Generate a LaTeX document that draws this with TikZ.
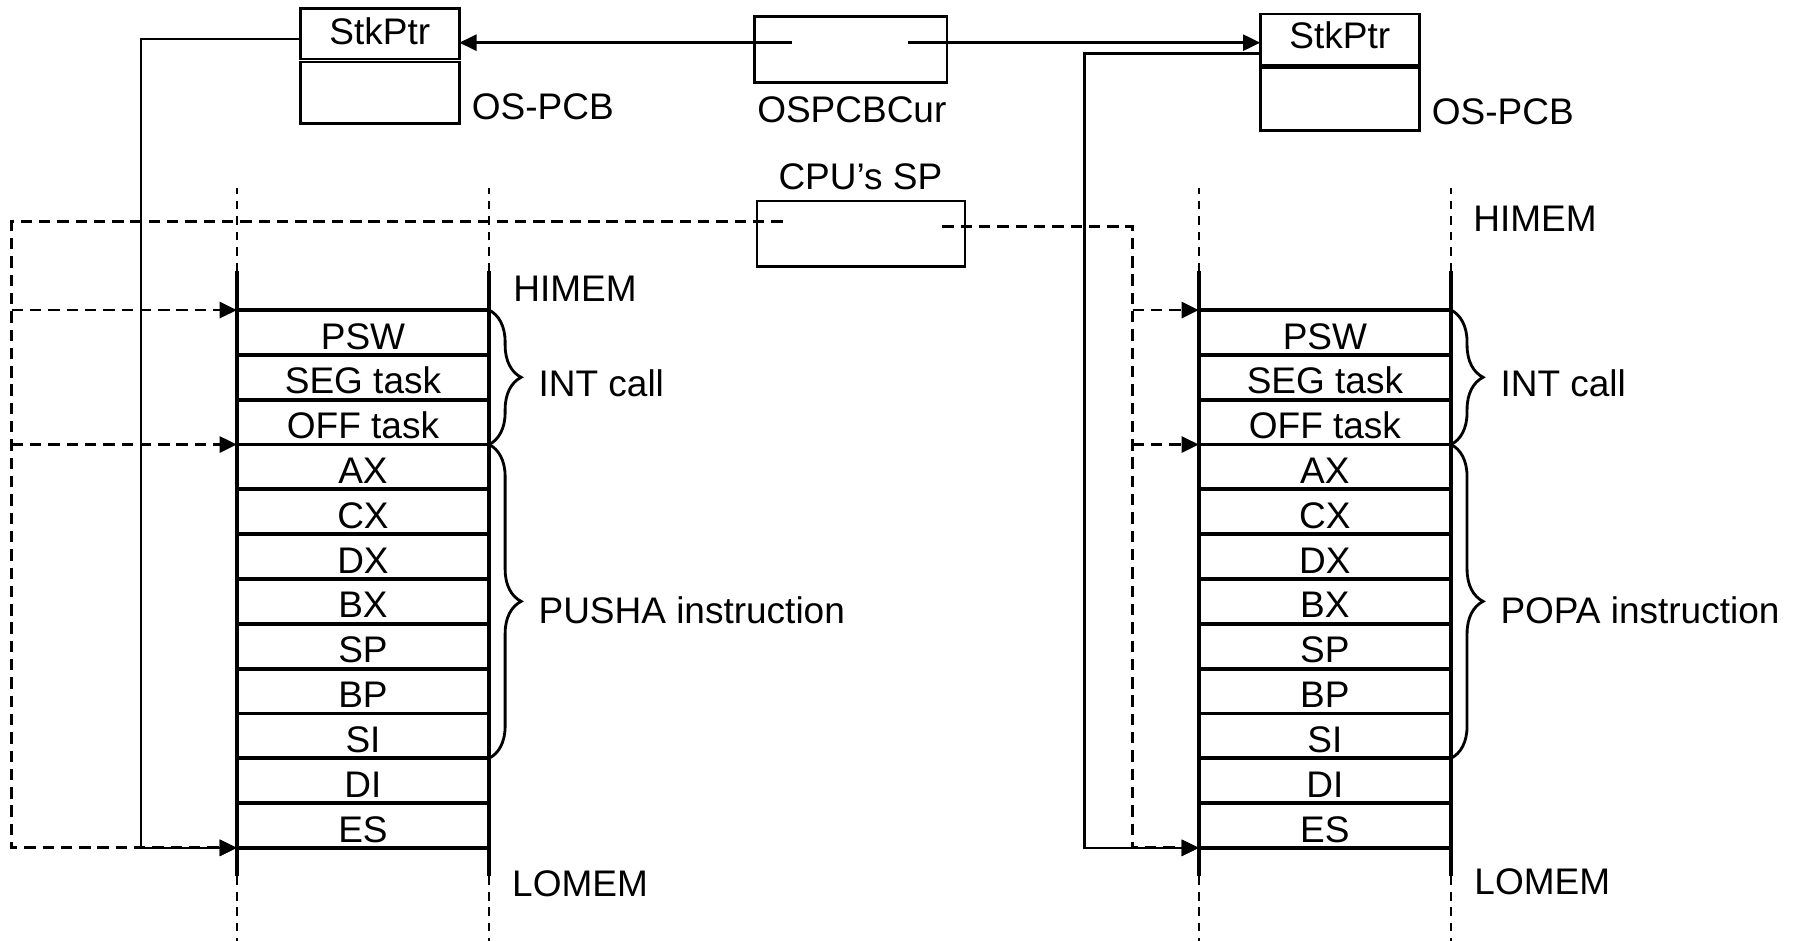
\documentclass[tikz,border=0pt]{standalone}
\usepackage{fontspec}
\setmainfont{Liberation Sans}
\usetikzlibrary{arrows.meta, positioning, decorations.pathreplacing}

\begin{document}
\begin{tikzpicture}[x=1mm, y=1mm, font=\fontsize{9.2}{11}\selectfont,
  cell/.style={draw, line width=0.95pt, minimum width=22.05mm, minimum height=3.917mm,
               inner sep=0pt, outer sep=0pt, text height=2.9mm, text depth=0pt},
  reg/.style={draw, line width=0.65pt, inner sep=0pt, outer sep=0pt, minimum width=13.9mm},
  lbl/.style={inner sep=0pt, anchor=west},
  arr/.style={-{Triangle[length=1.5mm, width=1.4mm]}, line width=0.6pt},
  darr/.style={arr, dash pattern=on 1mm off 0.6mm, line width=0.7pt},
  dline/.style={dash pattern=on 0.75mm off 0.6mm, line width=0.6pt},
  brc/.style={decorate, decoration={brace, amplitude=2.8mm}, line width=0.7pt}
]
\useasboundingbox (0,0) rectangle (156.8,-82.2);

% stacks: old task (left), new task (right)
\foreach \s/\x/\ins in {L/31.725/PUSHA, R/115.8/POPA} {
  \foreach \lbl [count=\i] in {PSW, SEG task, OFF task, AX, CX, DX, BX, SP, BP, SI, DI, ES}
    \node[cell] (s\s\i) at (\x, {-27.1-3.917*(\i-0.5)}) {\lbl};
  \foreach \side in {west, east} {
    \draw[line width=1pt] ([yshift=3.4mm]s\s1.north \side) -- ([yshift=-2.5mm]s\s12.south \side);
    \draw[dline] ([yshift=3.4mm]s\s1.north \side) -- ([yshift=10.7mm]s\s1.north \side);
    \draw[dline] ([yshift=-2.5mm]s\s12.south \side) -- ([yshift=-8.4mm]s\s12.south \side);
  }
  \draw[brc] (s\s1.north east) -- (s\s3.south east)
    node[lbl, midway, xshift=4.2mm, yshift=-0.5mm] {INT call};
  \draw[brc] (s\s4.north east) -- (s\s10.south east)
    node[lbl, midway, xshift=4.2mm, yshift=-0.8mm] {\ins\ instruction};
}

\node[lbl] (hiL) at (44.8,-25.2)  {HIMEM};
\node[lbl] (loL) at (44.7,-77.2)  {LOMEM};
\node[lbl] (hiR) at (128.7,-19.1) {HIMEM};
\node[lbl] (loR) at (128.8,-77.1) {LOMEM};

% process control blocks
\node[reg, minimum height=4.43mm, text height=2.32mm, text depth=0.4mm] (stkL) at (33.2,-2.945) {StkPtr};
\node[reg, minimum height=5.39mm, below=0.25mm of stkL] (pcbL) {};
\node[lbl] (osL) at (41.17,-9.32) {OS-PCB};

\node[reg, minimum height=4.48mm, text height=2.32mm, text depth=0.8mm] (stkR) at (117.1,-3.46) {StkPtr};
\node[reg, minimum height=5.47mm, below=0.25mm of stkR] (pcbR) {};
\node[lbl] (osR) at (125.08,-9.76) {OS-PCB};

% current PCB pointer and CPU stack pointer
\node[reg, minimum width=16.8mm, minimum height=5.74mm] (cur) at (74.36,-4.33) {};
\node (curlbl) at (74.45,-9.6) {OSPCBCur};
\node[reg, minimum width=18.2mm, minimum height=5.74mm] (sp) at (75.25,-20.44) {};
\node (splbl) at (75.2,-15.44) {CPU's SP};

\coordinate (curL) at (69.18,-3.73);
\coordinate (curR) at (79.37,-3.73);
\draw[arr] (curL) -- (curL -| stkL.east);
\draw[arr] (curR) -- (curR -| stkR.west);

\coordinate (busL) at (12.3,0);
\coordinate (busR) at (94.8,0);
\draw[arr] ([yshift=-0.45mm]stkL.west) -| (busL |- sL12.south west) -- (sL12.south west);
\draw[arr] ([yshift=-1.23mm]stkR.west) -| (busR |- sR12.south west) -- (sR12.south west);

\coordinate (spL) at (68.4,-19.38);
\coordinate (spR) at (82.37,-19.81);
\coordinate (dbusL) at (1.02,0);
\coordinate (dbusR) at (99.0,0);
\draw[darr] (spL) -| (dbusL |- sL12.south west) -- (sL12.south west);
\draw[darr] (spR) -| (dbusR |- sR12.south west) -- (sR12.south west);
\foreach \r in {sL1.north west, sL3.south west} \draw[darr] (dbusL |- \r) -- (\r);
\foreach \r in {sR1.north west, sR3.south west} \draw[darr] (dbusR |- \r) -- (\r);
\end{tikzpicture}
\end{document}
